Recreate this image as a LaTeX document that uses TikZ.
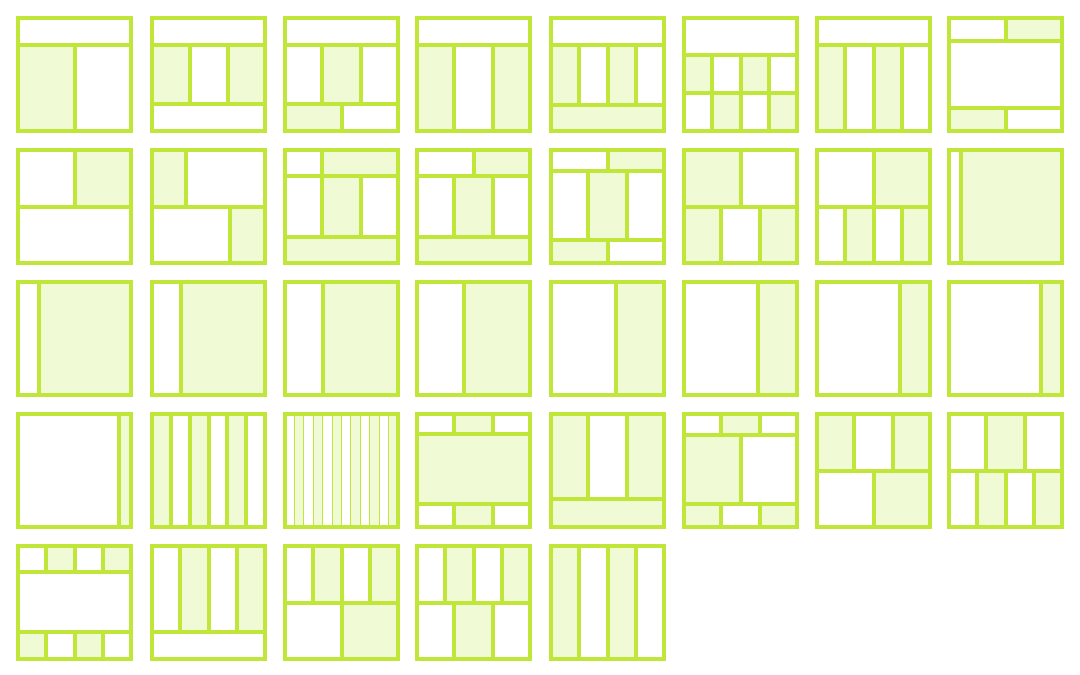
\documentclass[tikz,border=0pt]{standalone}
\definecolor{lime}{RGB}{192,230,58}
\definecolor{pale}{RGB}{240,250,212}
\tikzset{ln/.style={draw=lime,line width=4pt},
  thinln/.style={draw=lime,line width=1pt},
  cell/.style={fill=pale}}
\newcommand\lay[3]{\begin{scope}[shift={(#1+2,#2+2)},x=113pt,y=-113pt]#3\draw[ln] (0,0) rectangle (1,1);\end{scope}}
\newcommand\myh[1]{\draw[ln] (0,{#1}) -- (1,{#1});}
\newcommand\myv[3]{\draw[ln] ({#1},{#2}) -- ({#1},{#3});}
\newcommand\myf[4]{\fill[cell] ({#1},{#2}) rectangle ({#3},{#4});}
\newcommand\mysplit[3]{\lay{#1}{#2}{\pgfmathsetmacro\mysx{0.0225+0.0795*#3}\myf{\mysx}{0}{1}{1}\myv{\mysx}{0}{1}}}
\begin{document}
\begin{tikzpicture}[x=1pt,y=-1pt]
\fill[white] (0,0) rectangle (1080,675);
\useasboundingbox (0,0) rectangle (1080,675);
% row 1
\lay{16}{16}{\myf{0}{.24}{.5}{1}\myh{.24}\myv{.5}{.24}{1}}
\lay{150}{16}{\myf{0}{.24}{.34}{.76}\myf{.67}{.24}{1}{.76}\myh{.24}\myh{.76}\myv{.34}{.24}{.76}\myv{.67}{.24}{.76}}
\lay{283}{16}{\myf{.33}{.24}{.67}{.76}\myf{0}{.76}{.5}{1}\myh{.24}\myh{.76}\myv{.33}{.24}{.76}\myv{.67}{.24}{.76}\myv{.5}{.76}{1}}
\lay{415}{16}{\myf{0}{.24}{.33}{1}\myf{.67}{.24}{1}{1}\myh{.24}\myv{.33}{.24}{1}\myv{.67}{.24}{1}}
\lay{549}{16}{\myf{0}{.24}{.25}{.77}\myf{.5}{.24}{.75}{.77}\myf{0}{.77}{1}{1}\myh{.24}\myh{.77}\myv{.25}{.24}{.77}\myv{.5}{.24}{.77}\myv{.75}{.24}{.77}}
\lay{682}{16}{\myf{0}{.33}{.25}{.66}\myf{.5}{.33}{.75}{.66}\myf{.25}{.66}{.5}{1}\myf{.75}{.66}{1}{1}\myh{.33}\myh{.66}\myv{.25}{.33}{1}\myv{.5}{.33}{1}\myv{.75}{.33}{1}}
\lay{815}{16}{\myf{0}{.24}{.25}{1}\myf{.5}{.24}{.75}{1}\myh{.24}\myv{.25}{.24}{1}\myv{.5}{.24}{1}\myv{.75}{.24}{1}}
\lay{947}{16}{\myf{.5}{0}{1}{.2}\myf{0}{.8}{.5}{1}\myh{.2}\myh{.8}\myv{.5}{0}{.2}\myv{.5}{.8}{1}}
% row 2
\lay{16}{148}{\myf{.5}{0}{1}{.5}\myh{.5}\myv{.5}{0}{.5}}
\lay{150}{148}{\myf{0}{0}{.3}{.5}\myf{.69}{.5}{1}{1}\myh{.5}\myv{.3}{0}{.5}\myv{.69}{.5}{1}}
\lay{283}{148}{\myf{.33}{0}{1}{.23}\myf{.33}{.23}{.67}{.77}\myf{0}{.77}{1}{1}\myh{.23}\myh{.77}\myv{.33}{0}{.77}\myv{.67}{.23}{.77}}
\lay{415}{148}{\myf{.5}{0}{1}{.23}\myf{.33}{.23}{.67}{.77}\myf{0}{.77}{1}{1}\myh{.23}\myh{.77}\myv{.5}{0}{.23}\myv{.33}{.23}{.77}\myv{.67}{.23}{.77}}
\lay{549}{148}{\myf{.5}{0}{1}{.19}\myf{.33}{.19}{.67}{.8}\myf{0}{.8}{.5}{1}\myh{.19}\myh{.8}\myv{.5}{0}{.19}\myv{.33}{.19}{.8}\myv{.67}{.19}{.8}\myv{.5}{.8}{1}}
\lay{682}{148}{\myf{0}{0}{.5}{.5}\myf{0}{.5}{.33}{1}\myf{.67}{.5}{1}{1}\myh{.5}\myv{.5}{0}{.5}\myv{.33}{.5}{1}\myv{.67}{.5}{1}}
\lay{815}{148}{\myf{.5}{0}{1}{.5}\myf{.25}{.5}{.5}{1}\myf{.75}{.5}{1}{1}\myh{.5}\myv{.5}{0}{1}\myv{.25}{.5}{1}\myv{.75}{.5}{1}}
\mysplit{947}{148}{1}
% row 3
\mysplit{16}{280}{2}
\mysplit{150}{280}{3}
\mysplit{283}{280}{4}
\mysplit{415}{280}{5}
\mysplit{549}{280}{7}
\mysplit{682}{280}{8}
\mysplit{815}{280}{9}
\mysplit{947}{280}{10}
% row 4
\mysplit{16}{412}{11}
\lay{150}{412}{\myf{0}{0}{1/6}{1}\myf{2/6}{0}{3/6}{1}\myf{4/6}{0}{5/6}{1}\foreach \k in {1,...,5}{\myv{\k/6}{0}{1}}}
\lay{283}{412}{\foreach \k in {1,3,...,11}{\myf{\k/12}{0}{(\k+1)/12}{1}}\foreach \k in {1,...,11}{\draw[thinln] ({\k/12},0) -- ({\k/12},1);}}
\lay{415}{412}{\myf{.33}{0}{.67}{.18}\myf{0}{.18}{1}{.8}\myf{.33}{.8}{.67}{1}\myh{.18}\myh{.8}\myv{.33}{0}{.18}\myv{.67}{0}{.18}\myv{.33}{.8}{1}\myv{.67}{.8}{1}}
\lay{549}{412}{\myf{0}{0}{.33}{.75}\myf{.67}{0}{1}{.75}\myf{0}{.75}{1}{1}\myh{.75}\myv{.33}{0}{.75}\myv{.67}{0}{.75}}
\lay{682}{412}{\myf{.33}{0}{.67}{.19}\myf{0}{.19}{.5}{.8}\myf{0}{.8}{.33}{1}\myf{.67}{.8}{1}{1}\myh{.19}\myh{.8}\myv{.33}{0}{.19}\myv{.67}{0}{.19}\myv{.5}{.19}{.8}\myv{.33}{.8}{1}\myv{.67}{.8}{1}}
\lay{815}{412}{\myf{0}{0}{.33}{.5}\myf{.67}{0}{1}{.5}\myf{.5}{.5}{1}{1}\myh{.5}\myv{.33}{0}{.5}\myv{.67}{0}{.5}\myv{.5}{.5}{1}}
\lay{947}{412}{\myf{.33}{0}{.67}{.5}\myf{.25}{.5}{.5}{1}\myf{.75}{.5}{1}{1}\myh{.5}\myv{.33}{0}{.5}\myv{.67}{0}{.5}\myv{.25}{.5}{1}\myv{.5}{.5}{1}\myv{.75}{.5}{1}}
% row 5
\lay{16}{544}{\myf{.25}{0}{.5}{.23}\myf{.75}{0}{1}{.23}\myf{0}{.76}{.25}{1}\myf{.5}{.76}{.75}{1}\myh{.23}\myh{.76}\myv{.25}{0}{.23}\myv{.5}{0}{.23}\myv{.75}{0}{.23}\myv{.25}{.76}{1}\myv{.5}{.76}{1}\myv{.75}{.76}{1}}
\lay{150}{544}{\myf{.25}{0}{.5}{.76}\myf{.75}{0}{1}{.76}\myh{.76}\myv{.25}{0}{.76}\myv{.5}{0}{.76}\myv{.75}{0}{.76}}
\lay{283}{544}{\myf{.25}{0}{.5}{.5}\myf{.75}{0}{1}{.5}\myf{.5}{.5}{1}{1}\myh{.5}\myv{.25}{0}{.5}\myv{.5}{0}{1}\myv{.75}{0}{.5}}
\lay{415}{544}{\myf{.25}{0}{.5}{.5}\myf{.75}{0}{1}{.5}\myf{.33}{.5}{.67}{1}\myh{.5}\myv{.25}{0}{.5}\myv{.5}{0}{.5}\myv{.75}{0}{.5}\myv{.33}{.5}{1}\myv{.67}{.5}{1}}
\lay{549}{544}{\myf{0}{0}{.25}{1}\myf{.5}{0}{.75}{1}\myv{.25}{0}{1}\myv{.5}{0}{1}\myv{.75}{0}{1}}
\end{tikzpicture}
\end{document}
